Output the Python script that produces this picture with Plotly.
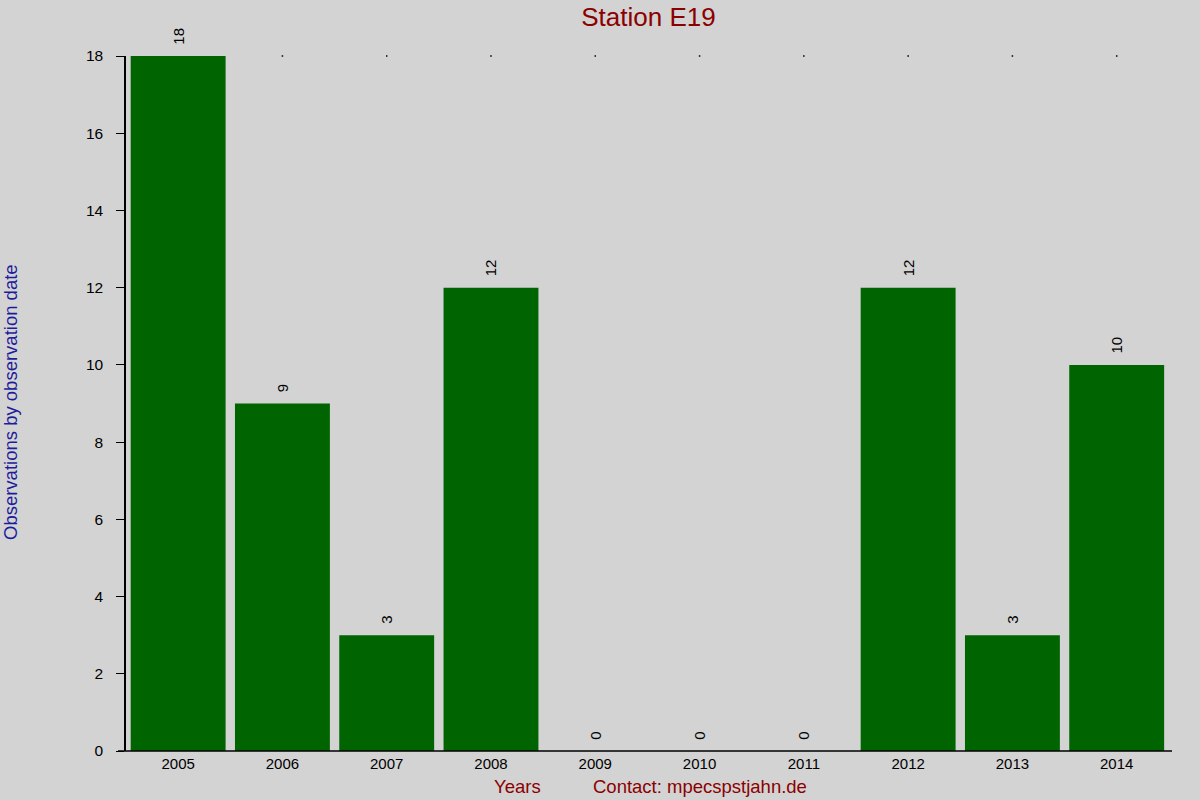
import plotly.graph_objects as go

# observations per year, station E19
years = ["2005", "2006", "2007", "2008", "2009", "2010", "2011", "2012", "2013", "2014"]
counts = [18, 9, 3, 12, 0, 0, 0, 12, 3, 10]
y_ticks = [0, 2, 4, 6, 8, 10, 12, 14, 16, 18]

fig = go.Figure()

fig.add_trace(go.Bar(
    x=years, y=counts,
    marker=dict(color="#006400", line=dict(width=0)),
    # leading non-breaking spaces keep the rotated label off the bar top
    text=["\u00a0\u00a0" + str(c) for c in counts],
    textposition="outside",
    textangle=-90,
    textfont=dict(family="Liberation Sans, Arial", size=15, color="black"),
    cliponaxis=False,
    showlegend=False,
))

# the little dots along the top edge of the chart
fig.add_trace(go.Scatter(
    x=years[1:], y=[max(y_ticks)] * (len(years) - 1),
    mode="markers",
    marker=dict(color="black", size=1.5, symbol="square"),
    hoverinfo="skip",
    showlegend=False,
    cliponaxis=False,
))

fig.update_layout(
    width=1200, height=800,
    paper_bgcolor="#d3d3d3",
    plot_bgcolor="#d3d3d3",
    margin=dict(l=126, r=28, t=56, b=49),
    bargap=0.09,
    font=dict(family="Liberation Sans, Arial", size=15, color="black"),
    title=dict(text="Station E19", x=0.4995, xref="paper", y=1 - 17 / 800, yanchor="middle",
               font=dict(size=26, color="#8b0000")),
    xaxis=dict(showgrid=False, zeroline=False, showline=False, ticks="",
               tickfont=dict(size=15), ticklabelstandoff=2),
    yaxis=dict(range=[0, 18], tickvals=y_ticks, showgrid=False, zeroline=False,
               showline=True, linecolor="black", linewidth=1.5,
               ticks="outside", ticklen=8, tickcolor="black", tickwidth=1,
               tickfont=dict(size=15.5), ticklabelstandoff=10),
)

# x axis line, running a bit past the y axis like the original
fig.add_shape(type="line", xref="paper", yref="paper",
              x0=-8 / 1046, x1=1, y0=0, y1=0,
              line=dict(color="black", width=1.5))

fig.add_annotation(text="Observations by observation date", xref="paper", yref="paper",
                   x=-0.111, xanchor="center", y=0.502, textangle=-90, showarrow=False,
                   font=dict(size=18.5, color="#1c1c9c"))
fig.add_annotation(text="Years", xref="paper", yref="paper",
                   x=0.374, xanchor="center", y=0, yshift=-35, yanchor="middle", showarrow=False,
                   font=dict(size=18.5, color="#8b0000"))
fig.add_annotation(text="Contact: mpecspstjahn.de", xref="paper", yref="paper",
                   x=0.4446, xanchor="left", y=0, yshift=-35, yanchor="middle", showarrow=False,
                   font=dict(size=18.5, color="#8b0000"))

# the page's default body margin would push the 1200x800 figure out of the window
fig.write_html("out.html", config={"displayModeBar": False},
               post_script="document.body.style.margin='0';")
